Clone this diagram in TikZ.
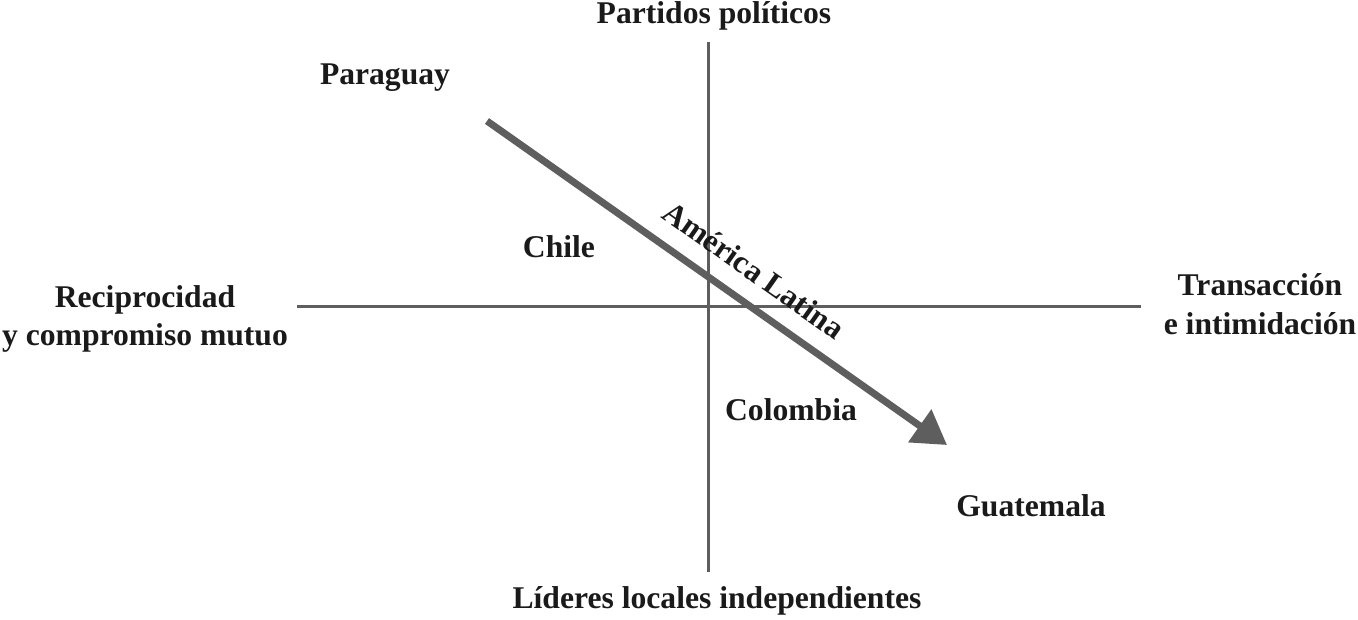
\documentclass[tikz,border=0pt]{standalone}
\usepackage{fontspec}
\setmainfont{Liberation Serif}
\usetikzlibrary{arrows.meta,positioning}
\definecolor{axisGray}{HTML}{5E5E5E}
\definecolor{textBlack}{HTML}{1A1A1A}

\begin{document}
\begin{tikzpicture}[x=0.02cm,y=-0.02cm,
    lbl/.style={textBlack, font=\fontsize{18}{22}\selectfont\bfseries, align=center, inner sep=0pt},
    axisline/.style={axisGray, line width=1.7pt},
    trend/.style={axisGray, line width=4pt, -{Triangle[length=19pt,width=22pt]}}]
  \useasboundingbox (0,0) rectangle (1358,619);
  % axes
  \coordinate (xl) at (297,306);
  \coordinate (xr) at (1141,306);
  \coordinate (yt) at (708,42);
  \coordinate (yb) at (708,572);
  \draw[axisline] (xl) -- (xr);
  \draw[axisline] (yt) -- (yb);
  % axis labels
  \node[lbl] (top) at (714,16) {Partidos políticos};
  \node[lbl] (bottom) at (717,601) {Líderes locales independientes};
  \node[lbl] (left) at (145,319) {Reciprocidad\\y compromiso mutuo};
  \node[lbl] (right) at (1260,304) {Transacción\\e intimidación};
  % countries
  \node[lbl] (paraguay) at (385,78) {Paraguay};
  \node[lbl] (chile) at (559,247) {Chile};
  \node[lbl] (colombia) at (791,410) {Colombia};
  \node[lbl] (guatemala) at (1031,506) {Guatemala};
  % trend
  \coordinate (start) at (487,121);
  \coordinate (tip) at (947,445);
  \draw[trend] (start) -- (tip);
  \node[lbl, rotate=-35.2] (latam) at (754,270) {América Latina};
\end{tikzpicture}
\end{document}
